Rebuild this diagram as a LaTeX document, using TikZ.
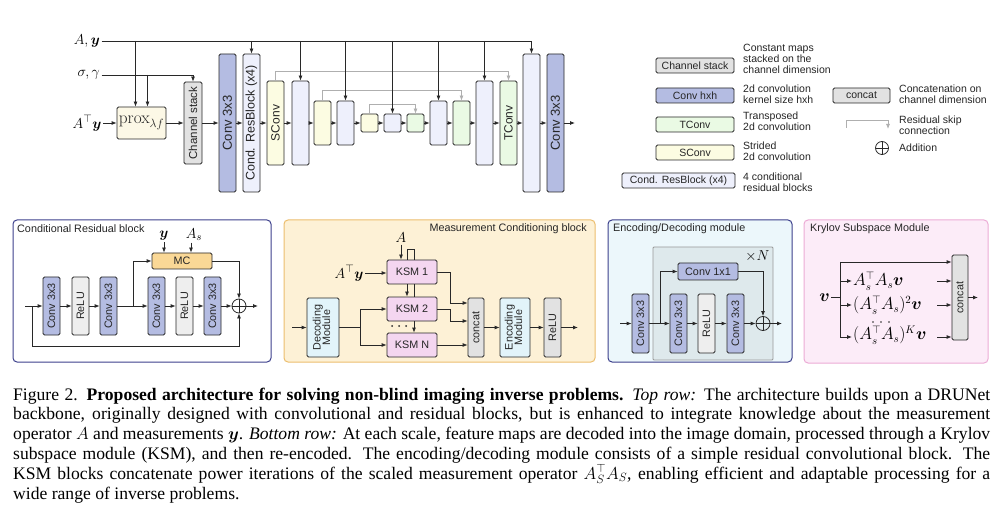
\documentclass[tikz,border=0pt]{standalone}
\usepackage{amsmath}
\usepackage[no-math]{fontspec}
\setmainfont{Liberation Serif}
\setsansfont{Liberation Sans}
\usepackage{graphicx}
\usetikzlibrary{arrows.meta}
\definecolor{cblue}{RGB}{180,188,226}
\definecolor{clav}{RGB}{238,240,252}
\definecolor{cyel}{RGB}{252,252,226}
\definecolor{cgrn}{RGB}{234,250,228}
\definecolor{cgray}{RGB}{226,226,226}
\definecolor{cgrayl}{RGB}{238,238,238}
\definecolor{ccream}{RGB}{252,248,230}
\definecolor{cgold}{RGB}{250,216,150}
\definecolor{cpink}{RGB}{244,214,240}
\definecolor{ccyan}{RGB}{226,244,250}
\definecolor{cnavy}{RGB}{60,64,140}
\definecolor{corange}{RGB}{236,190,110}
\definecolor{cpanelb}{RGB}{253,241,214}
\definecolor{cpanelc}{RGB}{236,247,251}
\definecolor{cinner}{RGB}{222,233,236}
\definecolor{cpinkb}{RGB}{236,172,214}
\definecolor{cpaneld}{RGB}{252,236,248}
\definecolor{cskip}{RGB}{175,175,175}
\definecolor{cline}{RGB}{40,40,40}
\newcommand\vtxt[1]{\rotatebox{90}{#1}}
\newcommand\mybox[7]{%
  \pgfmathsetmacro\bxw{#4-#2}\pgfmathsetmacro\bxh{#5-#3}%
  \pgfmathsetmacro\bxx{(#2+#4)/2}\pgfmathsetmacro\bxy{(#3+#5)/2}%
  \node[bx,#6,minimum width=\bxw pt,minimum height=\bxh pt] (#1) at (\bxx,\bxy) {#7};}
\newcommand\twol[2]{\begin{tabular}{@{}c@{}}#1\\[-2.5pt]#2\end{tabular}}
\newcommand\capline[1]{\makebox[977pt][s]{#1}}
\begin{document}
\begin{tikzpicture}[x=1pt,y=-1pt,
 arr/.style={-{Latex[length=5pt,width=4pt]},line width=0.8pt,draw=cline},
 ln/.style={line width=0.8pt,draw=cline},
 skiparr/.style={-{Latex[length=5pt,width=4pt]},line width=0.8pt,draw=cskip},
 bx/.style={draw=cline,line width=0.8pt,rounded corners=1.5pt,inner sep=0pt,text=black!85},
 ft/.style={font=\sffamily\fontsize{12}{13}\selectfont},
 fb/.style={font=\sffamily\fontsize{10.8}{12}\selectfont},
 fl/.style={font=\sffamily\fontsize{10.5}{11}\selectfont},
 lg/.style={fl,anchor=west,align=left,inner sep=0pt,text=black!85},
 ttl/.style={fb,anchor=west,inner sep=0pt,text=black!85},
 panel/.style={line width=1pt,rounded corners=4pt},
 addc/.style={circle,draw=cline,line width=0.8pt,minimum size=14pt,inner sep=0pt,
   path picture={\draw[line width=0.8pt,cline] (path picture bounding box.north) -- (path picture bounding box.south) (path picture bounding box.west) -- (path picture bounding box.east);}},
 ml/.style={inner sep=1.5pt,font=\fontsize{15.5}{16}\selectfont},
 kl/.style={inner sep=1pt,anchor=west,font=\fontsize{16}{17}\selectfont},
 captxt/.style={anchor=base west,inner sep=0pt}
]
\fill[white] (0,0) rectangle (1000,518);
\useasboundingbox (0,0) rectangle (1000,518);

% ================= TOP ROW =================
\node[ml,anchor=east] (ay) at (101.5,41) {$A,\boldsymbol{y}$};
\node[ml,anchor=east] (sg) at (101.5,75) {$\sigma,\gamma$};
\node[ml,anchor=east] (aty) at (103,123) {$A^{\top}\boldsymbol{y}$};

\mybox{prox}{117}{107}{166}{139}{fill=ccream}{\fontsize{16.5}{17}\selectfont$\mathrm{prox}_{\lambda f}$}
\mybox{chst}{184}{82}{202}{164}{fill=cgray,ft}{\vtxt{\fontsize{11.5}{12}\selectfont Channel stack}}
\mybox{cva}{219}{54}{236}{192}{fill=cblue,ft}{\vtxt{\fontsize{13}{14}\selectfont Conv 3x3}}
\mybox{crb}{243}{54}{260}{192}{fill=clav,ft}{\vtxt{\fontsize{12.5}{14}\selectfont Cond. ResBlock (x4)}}
\mybox{sca}{267}{81}{284}{165}{fill=cyel,ft}{\vtxt{SConv}}
\mybox{ua}{292}{81}{309}{165}{fill=clav}{}
\mybox{scb}{314}{101}{331}{145}{fill=cyel}{}
\mybox{ub}{337}{101}{354}{145}{fill=clav}{}
\mybox{scc}{361}{114}{378}{132}{fill=cyel}{}
\mybox{uc}{384}{114}{401}{132}{fill=clav}{}
\mybox{tcc}{407}{114}{424}{132}{fill=cgrn}{}
\mybox{ud}{430}{101}{447}{145}{fill=clav}{}
\mybox{tcb}{453}{101}{470}{145}{fill=cgrn}{}
\mybox{ue}{476}{81}{493}{165}{fill=clav}{}
\mybox{tca}{500}{81}{517}{165}{fill=cgrn,ft}{\vtxt{TConv}}
\mybox{uf}{523}{54}{540}{192}{fill=clav}{}
\mybox{cvb}{547}{54}{564}{192}{fill=cblue,ft}{\vtxt{\fontsize{13}{14}\selectfont Conv 3x3}}
\coordinate (outa) at (575,123);

% skip connections
\draw[skiparr] (sca.north) -- ++(0,-9) -| (tca.north);
\draw[skiparr] (scb.north) -- ++(0,-10) -| (tcb.north);
\draw[skiparr] (scc.north) -- ++(0,-9) -| (tcc.north);

% A,y bus
\draw[arr] (ay.east) -| (uf.north);
\foreach \n in {crb,ua,ub,uc,ud,ue} \draw[arr] (ay.east -| \n.north) -- (\n.north);
\coordinate (pin1) at ([xshift=-6pt]prox.north);
\coordinate (pin2) at ([xshift=6pt]prox.north);
\draw[arr] (ay.east -| pin1) -- (pin1);
\draw[arr] (sg.east -| pin2) -- (pin2);
\draw[arr] (sg.east) -| (chst.north);

% main flow
\draw[arr] (aty.east) -- (aty.east -| prox.west);
\foreach \a/\b in {prox/chst,chst/cva,cva/crb,crb/sca,sca/ua,ua/scb,scb/ub,ub/scc,scc/uc,uc/tcc,tcc/ud,ud/tcb,tcb/ue,ue/tca,tca/uf,uf/cvb}
  \draw[arr] (\a.east) -- (\b.west);
\draw[arr] (cvb.east) -- (outa);

% ================= LEGEND =================
\mybox{lgcs}{656}{58}{734}{73}{fill=cgray,fl}{Channel stack}
\node[lg] at (743,58.5) {Constant maps\\stacked on the\\channel dimension};
\mybox{lgcv}{656}{88}{734}{103}{fill=cblue,fl}{Conv hxh}
\node[lg] at (743,94.5) {2d convolution\\kernel size hxh};
\mybox{lgtc}{656}{117}{734}{132}{fill=cgrn,fl}{TConv}
\node[lg] at (743,121.5) {Transposed\\2d convolution};
\mybox{lgsc}{656}{145}{734}{160}{fill=cyel,fl}{SConv}
\node[lg] at (743,151.5) {Strided\\2d convolution};
\mybox{lgcr}{622}{173}{735}{188}{fill=clav,fl}{Cond. ResBlock (x4)}
\node[lg] at (743,182.5) {4 conditional\\residual blocks};
\mybox{lgcc}{833}{88}{890}{103}{fill=cgray,fl}{concat}
\node[lg] at (899,94.5) {Concatenation on\\channel dimension};
\coordinate (lgs1) at (846,128);
\coordinate (lgs2) at (888,129);
\draw[skiparr] (lgs1) -- ++(0,-8) -| (lgs2);
\node[lg] at (899,125) {Residual skip\\connection};
\node[addc,minimum size=13pt] (lgad) at (882,148) {};
\node[lg] at (899,148) {Addition};

% ================= PANEL 1 =================
\draw[panel,draw=cnavy,fill=white] (13,220) rectangle (271,362);
\node[ttl] at (17,229) {Conditional Residual block};
\mybox{pc1}{43}{277}{60}{335}{fill=cblue,fb}{\vtxt{Conv 3x3}}
\mybox{pr1}{72}{277}{89}{335}{fill=cgrayl,fb}{\vtxt{ReLU}}
\mybox{pc2}{100}{277}{117}{335}{fill=cblue,fb}{\vtxt{Conv 3x3}}
\mybox{pc3}{148}{277}{165}{335}{fill=cblue,fb}{\vtxt{Conv 3x3}}
\mybox{pr2}{176}{277}{193}{335}{fill=cgrayl,fb}{\vtxt{ReLU}}
\mybox{pc4}{204}{277}{221}{335}{fill=cblue,fb}{\vtxt{Conv 3x3}}
\node[addc] (pad) at (239,306) {};
\mybox{mc}{152}{253}{212}{269}{fill=cgold,fb}{MC}
\node[ml] (ly) at (164,236) {$\boldsymbol{y}$};
\node[ml] (las) at (194,235) {$A_s$};
\draw[arr] (ly.south) -- (ly.south |- mc.north);
\coordinate (lasb) at ([xshift=-3pt]las.south);
\draw[arr] (lasb) -- (lasb |- mc.north);
\coordinate (pin) at (25,306);
\coordinate (psk) at (32,306);
\coordinate (pbr) at (133,306);
\coordinate (pout) at (258,306);
\draw[arr] (pin) -- (pc1.west);
\draw[arr] (pc1.east) -- (pr1.west);
\draw[arr] (pr1.east) -- (pc2.west);
\draw[arr] (pc2.east) -- (pc3.west);
\draw[arr] (pbr) |- (mc.west);
\draw[arr] (pc3.east) -- (pr2.west);
\draw[arr] (pr2.east) -- (pc4.west);
\draw[arr] (pc4.east) -- (pad.west);
\draw[arr] (mc.east) -| (pad.north);
\draw[arr] (pad.east) -- (pout);
\draw[arr] (psk) -- ++(0,40) -| (pad.south);

% ================= PANEL 2 =================
\draw[panel,draw=corange,fill=cpanelb] (284,220) rectangle (595,362);
\node[ttl,anchor=east] at (587,229) {Measurement Conditioning block};
\mybox{ksa}{387}{260}{437}{284}{fill=cpink,fb}{KSM 1}
\mybox{ksb}{387}{297}{437}{321}{fill=cpink,fb}{KSM 2}
\mybox{ksn}{387}{333}{437}{357}{fill=cpink,fb}{KSM N}
\mybox{dec}{307}{298}{339}{357}{fill=ccyan,fb}{\vtxt{\twol{Decoding}{Module}}}
\mybox{cat}{468}{298}{484}{357}{fill=cgray,fb}{\vtxt{concat}}
\mybox{enc}{500}{298}{530}{357}{fill=ccyan,fb}{\vtxt{\twol{Encoding}{Module}}}
\mybox{rel}{544}{298}{561}{357}{fill=cgray,fb}{\vtxt{ReLU}}
\node[ml] (lA) at (401,238) {$A$};
\node[ml,anchor=east] (maty) at (365,273) {$A^{\top}\boldsymbol{y}$};
\draw[arr] (lA.south) -- (lA.south |- ksa.north);
\coordinate (k1) at (407,260);
\coordinate (k2) at (414,260);
\draw[ln] (k1) -- ++(0,-11) -| (k2);
\draw[arr] (ksa.south -| k1) -- (ksb.north -| k1);
\draw[ln] (ksa.south -| k2) -- (ksb.north -| k2);
\draw[arr] (ksb.south -| k2) -- (ksn.north -| k2);
\foreach \xx in {392,399,406} \fill[cline] (\xx,326) circle (1pt);
\draw[arr] (maty.east) -- (maty.east -| ksa.west);
\coordinate (min) at (292,327.5);
\coordinate (mbr) at (360,327.5);
\draw[arr] (min) -- (dec.west);
\draw[ln] (dec.east) -- (mbr);
\draw[arr] (mbr) |- (ksb.west);
\draw[arr] (mbr) |- (ksn.west);
\coordinate (ci1) at ([yshift=24.5pt]cat.west);
\coordinate (ci2) at ([yshift=6.5pt]cat.west);
\draw[arr] (ksa.east) -- ++(13,0) |- (ci1);
\draw[arr] (ksb.east) -- ++(13,0) |- (ci2);
\draw[arr] (ksn.east) -- (ksn.east -| cat.west);
\draw[arr] (cat.east) -- (enc.west);
\draw[arr] (enc.east) -- (rel.west);
\coordinate (mout) at (578,327.5);
\draw[arr] (rel.east) -- (mout);

% ================= PANEL 3 =================
\draw[panel,draw=cnavy,fill=cpanelc] (608,220) rectangle (792,362);
\node[ttl] at (613,229) {Encoding/Decoding module};
\draw[draw=black!40,fill=cinner,line width=0.8pt,rounded corners=1pt] (653,247) rectangle (773,360);
\node[ml,anchor=east] at (771,256) {$\times N$};
\mybox{ec0}{632}{294}{649}{353}{fill=cblue,fb}{\vtxt{Conv 3x3}}
\mybox{ec1}{670}{294}{687}{353}{fill=cblue,fb}{\vtxt{Conv 3x3}}
\mybox{er}{698}{294}{715}{353}{fill=cgrayl,fb}{\vtxt{ReLU}}
\mybox{ec2}{727}{294}{744}{353}{fill=cblue,fb}{\vtxt{Conv 3x3}}
\mybox{eone}{678}{263}{738}{280}{fill=cblue,fb}{Conv 1x1}
\node[addc] (ead) at (763,323.5) {};
\coordinate (ein) at (620,323.5);
\coordinate (ebr) at (660,323.5);
\coordinate (eout) at (782,323.5);
\draw[arr] (ein) -- (ec0.west);
\draw[arr] (ec0.east) -- (ec1.west);
\draw[arr] (ebr) |- (eone.west);
\draw[arr] (ec1.east) -- (er.west);
\draw[arr] (er.east) -- (ec2.west);
\draw[arr] (ec2.east) -- (ead.west);
\draw[arr] (eone.east) -| (ead.north);
\draw[arr] (ead.east) -- (eout);

% ================= PANEL 4 =================
\draw[panel,draw=cpinkb,fill=cpaneld] (804,220) rectangle (988,363);
\node[ttl] at (810,229) {Krylov Subspace Module};
\mybox{kc}{952}{255}{968}{340}{fill=cgray,fb}{\vtxt{concat}}
\node[inner sep=1pt,anchor=east,font=\fontsize{17}{18}\selectfont] (kv) at (831,297.5) {$\boldsymbol{v}$};
\coordinate (kb) at (840,297.5);
\coordinate (k0) at (840,262);
\coordinate (k3) at (840,337);
\draw[ln] (kv.east) -- (kb);
\draw[ln] (k0) -- (k3);
\draw[arr] (k0) -- (k0 -| kc.west);
\node[kl] (kla) at (852,281) {$A_s^{\top}A_s\boldsymbol{v}$};
\node[kl] (klb) at (852,305) {$(A_s^{\top}A_s)^2\boldsymbol{v}$};
\node[kl] (klc) at (852,335) {$(A_s^{\top}A_s)^K\boldsymbol{v}$};
\foreach \xx in {873,881,889} \fill[cline] (\xx,322) circle (0.9pt);
\coordinate (kq1) at (840,281);
\coordinate (kq2) at (840,305);
\draw[arr] (kq1) -- (kla.west |- kq1);
\draw[arr] (kq2) -- (klb.west |- kq2);
\draw[arr] (k3) -- (klc.west |- k3);
\coordinate (kr1) at (937,281);
\coordinate (kr2) at (937,305);
\coordinate (kr3) at (937,337);
\draw[arr] (kr1) -- (kr1 -| kc.west);
\draw[arr] (kr2) -- (kr2 -| kc.west);
\draw[arr] (kr3) -- (kr3 -| kc.west);
\coordinate (kout) at (978,297.5);
\draw[arr] (kc.east) -- (kout);

% ================= CAPTION =================
\node[captxt] (caption) at (13,400) {\parbox[t]{977pt}{\fontsize{17.6}{19.8}\selectfont\setlength\parindent{0pt}%
\capline{Figure 2. \textbf{Proposed architecture for solving non-blind imaging inverse problems.} \textit{Top row:} The architecture builds upon a DRUNet}\\
\capline{backbone, originally designed with convolutional and residual blocks, but is enhanced to integrate knowledge about the measurement}\\
\capline{operator $A$ and measurements $\boldsymbol{y}$. \textit{Bottom row:} At each scale, feature maps are decoded into the image domain, processed through a Krylov}\\
\capline{subspace module (KSM), and then re-encoded. The encoding/decoding module consists of a simple residual convolutional block. The}\\
\capline{KSM blocks concatenate power iterations of the scaled measurement operator $A_S^{\top}A_S$, enabling efficient and adaptable processing for a}\\
wide range of inverse problems.}};
\end{tikzpicture}
\end{document}
